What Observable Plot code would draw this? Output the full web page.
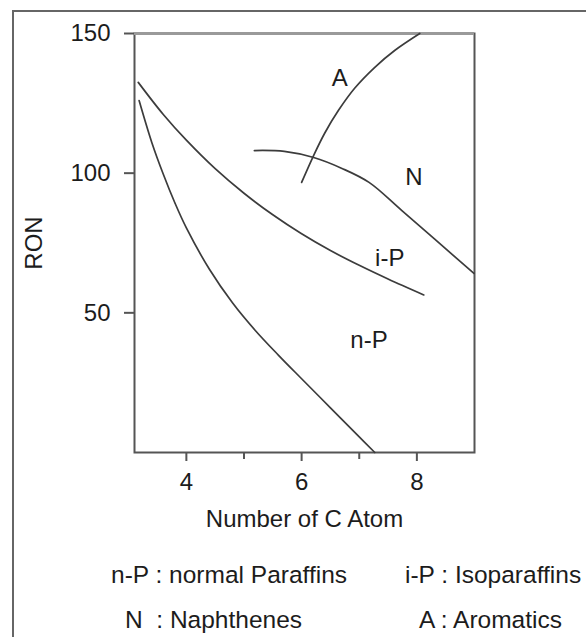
<!DOCTYPE html>
<html>
<head>
<meta charset="utf-8">
<script src="https://cdn.jsdelivr.net/npm/d3@7"></script>
<script src="https://cdn.jsdelivr.net/npm/@observablehq/plot@0.6"></script>
<style>
  html, body { margin: 0; padding: 0; background: #fff; }
  #wrap { position: relative; width: 586px; height: 637px; overflow: hidden; font-family: "Liberation Sans", Arial, sans-serif; color: #1c1c1c; }
  #box { position: absolute; left: 12px; top: 10px; width: 640px; height: 700px; border-left: 2px solid #666; border-top: 2px solid #666; }
  #chart { position: absolute; left: 0; top: 0; }
  .leg { position: absolute; font-size: 24.5px; line-height: 24px; white-space: pre; }
</style>
</head>
<body>
<div id="wrap">
  <div id="box"></div>
  <div id="chart"></div>
</div>
<script>
// ---- data ----
const nPx = [3.18, 3.4, 3.6, 3.8, 4.0, 4.4, 4.8, 5.2, 5.6, 6.0, 6.5, 7.0, 7.27];
const nPy = [126, 111, 99.6, 89.4, 80.4, 65.6, 53.6, 43.6, 34.8, 26.4, 16, 5.6, 0];

const iPx = [3.165, 3.6, 4.0, 4.5, 5.0, 5.5, 6.0, 6.5, 7.0, 7.5, 8.12];
const iPy = [132.5, 121, 111.8, 101.6, 92.8, 85.1, 78.3, 72.3, 67, 62.1, 56.4];

const Nx = [5.18, 5.7, 6.21, 6.7, 7.17, 7.74, 8.99];
const Ny = [108.1, 107.8, 105.6, 101.7, 96.7, 86.6, 64.1];

const Ax = [6.0, 6.21, 6.40, 6.64, 6.92, 7.27, 7.62, 8.05];
const Ay = [96.7, 106.4, 114.3, 122.5, 130.4, 137.9, 144, 150];

const regionLabels = ["A", "N", "i-P", "n-P"];
const regionX = [6.66, 7.95, 7.53, 7.17];
const regionY = [134, 98.5, 69.4, 40];

const xMajorTicks = [4, 6, 8];
const xMinorTicks = [5, 7];
const yTicks = [50, 100, 150];
const xDomain = [3.1, 9.0];
const yDomain = [0, 150];
const xLabel = "Number of C Atom";
const yLabel = "RON";
const legendItems = ["n-P : normal Paraffins", "i-P : Isoparaffins", "N  : Naphthenes", "A : Aromatics"];

// ---- build rows ----
const toRows = (xs, ys, name) => xs.map((x, i) => ({x, y: ys[i], s: name}));
const curves = [
  toRows(nPx, nPy, "n-P"),
  toRows(iPx, iPy, "i-P"),
  toRows(Nx, Ny, "N"),
  toRows(Ax, Ay, "A")
];
const labels = regionLabels.map((t, i) => ({t, x: regionX[i], y: regionY[i]}));

const lineColor = "#3c3c3c";
const frameColor = "#555";

const chart = Plot.plot({
  width: 586,
  height: 540,
  marginLeft: 134,
  marginRight: 112,
  marginTop: 33,
  marginBottom: 88,
  style: {fontFamily: '"Liberation Sans", Arial, sans-serif', background: "transparent", color: "#1c1c1c"},
  x: {domain: xDomain},
  y: {domain: yDomain},
  marks: [
    Plot.frame({stroke: frameColor, strokeWidth: 2}),
    Plot.ruleY([yDomain[1]], {stroke: "#9a9a9a", strokeWidth: 3}),
    ...curves.map(c => Plot.line(c, {x: "x", y: "y", stroke: lineColor, strokeWidth: 1.7, curve: "catmull-rom"})),
    Plot.text(labels, {x: "x", y: "y", text: "t", fontSize: 24, fill: "#1c1c1c"}),
    Plot.axisX({ticks: xMajorTicks, tickSize: 9, tickPadding: 11, fontSize: 24, stroke: frameColor, strokeWidth: 2,
      tickFormat: d => String(d),
      label: xLabel, labelAnchor: "center", labelArrow: "none", labelOffset: 74}),
    Plot.axisX({ticks: xMinorTicks, tickSize: 7, tickFormat: () => "", stroke: frameColor, strokeWidth: 2, label: null}),
    Plot.axisY({ticks: yTicks, tickSize: 10, tickPadding: 14, fontSize: 24, stroke: frameColor, strokeWidth: 2,
      tickFormat: d => String(d),
      label: yLabel, labelAnchor: "center", labelArrow: "none", labelOffset: 110})
  ]
});
document.getElementById("chart").appendChild(chart);

// legend below the plot
const legPos = [[111, 563], [405, 563], [125, 608], [419, 608]];
legendItems.forEach((t, i) => {
  const d = document.createElement("div");
  d.className = "leg";
  d.textContent = t;
  d.style.left = legPos[i][0] + "px";
  d.style.top = legPos[i][1] + "px";
  document.getElementById("wrap").appendChild(d);
});
</script>
</body>
</html>
